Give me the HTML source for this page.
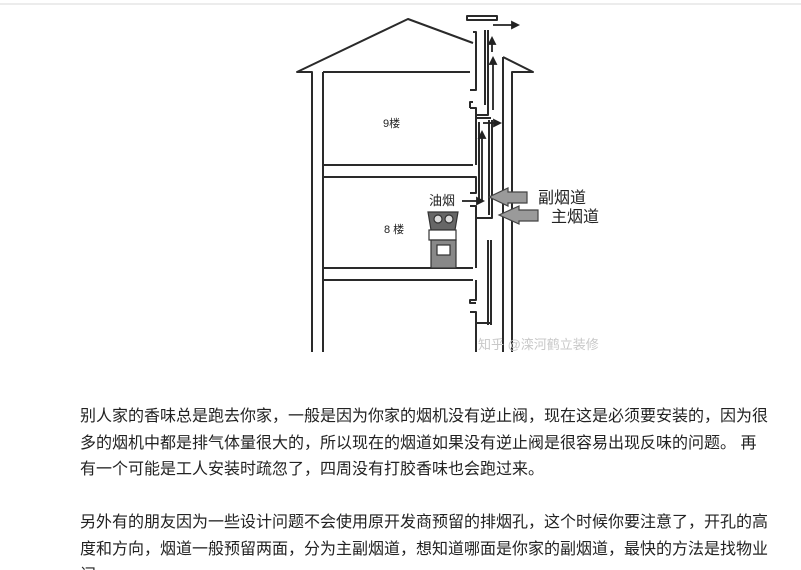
<!DOCTYPE html>
<html><head><meta charset="utf-8"><style>
html,body{margin:0;padding:0;background:#fff;width:801px;height:570px;overflow:hidden;position:relative}
.topline{position:absolute;left:0;top:3px;width:801px;height:2px;background:#ececec}
svg{position:absolute;left:0;top:0}
.txt{position:absolute;left:80px;top:404px;width:690px;height:166px;overflow:hidden;font-family:"Liberation Sans","Noto Sans CJK SC",sans-serif;font-size:16px;line-height:26.5px;color:#222}
.txt p{margin:0 0 26.5px 0}
</style></head><body>
<div class="topline"></div>
<svg width="801" height="400" viewBox="0 0 801 400" xmlns="http://www.w3.org/2000/svg">
<g fill="none" stroke="#2a2a2a" stroke-width="2" stroke-linejoin="round">
<polyline points="473,43 408,19 297,72 312,72 312,352"/>
<polyline points="503,57 533,72 512,72 512,352"/>
<line x1="503" y1="57" x2="503" y2="352"/>
<line x1="323" y1="72" x2="323" y2="352"/>
<polyline points="323,72 470,72"/>
<polyline points="323,165 473,165"/>
<polyline points="323,177 473,177"/>
<polyline points="323,268 473,268"/>
<polyline points="323,280 473,280"/>
<polyline points="473,32 476,32 476,90 470,90"/>
<polyline points="470,108 476,108 476,165"/>
<polyline points="473,102 470,102 470,108"/>
<polyline points="473,177 476,177 476,193 470,193"/>
<polyline points="470,206 476,206 476,268"/>
<polyline points="476,280 476,300 470,300 470,303 476,303"/>
<polyline points="470,312 476,312 476,352"/>
<line x1="485" y1="30" x2="485" y2="105"/>
<line x1="488" y1="30" x2="488" y2="105"/>
<polyline points="476,115 488,115 488,105"/>
<polyline points="476,118 491,118"/>
<line x1="479" y1="122" x2="479" y2="200"/>
<line x1="489" y1="120" x2="489" y2="215"/>
<line x1="492" y1="120" x2="492" y2="215"/>
<polyline points="476,218 492,218 492,212"/>
<line x1="488" y1="240" x2="488" y2="325"/>
<line x1="491" y1="240" x2="491" y2="325"/>
<polyline points="476,323 491,323"/>
<rect x="467" y="16" width="30" height="4"/>
</g>
<g fill="#222" stroke="#222" stroke-width="1.8">
<line x1="493" y1="25" x2="512" y2="25"/><polygon points="512,22 518,25 512,28"/>
<line x1="492" y1="52" x2="492" y2="43"/><polygon points="489,44 492,38 495,44"/>
<line x1="493" y1="110" x2="493" y2="63"/><polygon points="490,64 493,58 496,64"/>
<line x1="483" y1="123" x2="494" y2="123"/><polygon points="494,120 500,123 494,126"/>
<line x1="482" y1="200" x2="482" y2="137"/><polygon points="479,138 482,132 485,138"/>
<line x1="462" y1="201" x2="477" y2="201"/><polygon points="477,198 483,201 477,204"/>
</g>
<g fill="#9a9a9a" stroke="#444" stroke-width="1.2">
<polygon points="527,192 508,192 508,188 489,197 508,206 508,203 527,203"/>
<polygon points="538,210 519,210 519,206 499,215 519,224 519,221 538,221"/>
</g>
<g stroke="#333" stroke-width="1.2">
<polygon points="428,212 458,212 455,230 431,230" fill="#666"/>
<circle cx="438" cy="219" r="4" fill="#ddd"/><circle cx="449" cy="219" r="4" fill="#ddd"/>
<rect x="429" y="230" width="27" height="10" fill="#fff"/>
<rect x="431" y="240" width="25" height="28" fill="#888"/>
<rect x="437" y="245" width="13" height="10" fill="#fff"/>
</g>
<g font-family="Liberation Sans,'Noto Sans CJK SC',sans-serif" fill="#222">
<text x="383" y="127" font-size="11">9楼</text>
<text x="384" y="233" font-size="11">8 楼</text>
<text x="429" y="205" font-size="13">油烟</text>
<text x="538" y="203" font-size="16">副烟道</text>
<text x="551" y="222" font-size="16">主烟道</text>
<text x="478" y="349" font-size="13" fill="#c8c8c8">知乎 @滦河鹤立装修</text>
</g>
</svg>
<div class="txt">
<p>别人家的香味总是跑去你家，一般是因为你家的烟机没有逆止阀，现在这是必须要安装的，因为很多的烟机中都是排气体量很大的，所以现在的烟道如果没有逆止阀是很容易出现反味的问题。 再有一个可能是工人安装时疏忽了，四周没有打胶香味也会跑过来。</p>
<p>另外有的朋友因为一些设计问题不会使用原开发商预留的排烟孔，这个时候你要注意了，开孔的高度和方向，烟道一般预留两面，分为主副烟道，想知道哪面是你家的副烟道，最快的方法是找物业问</p>
</div>
</body></html>
